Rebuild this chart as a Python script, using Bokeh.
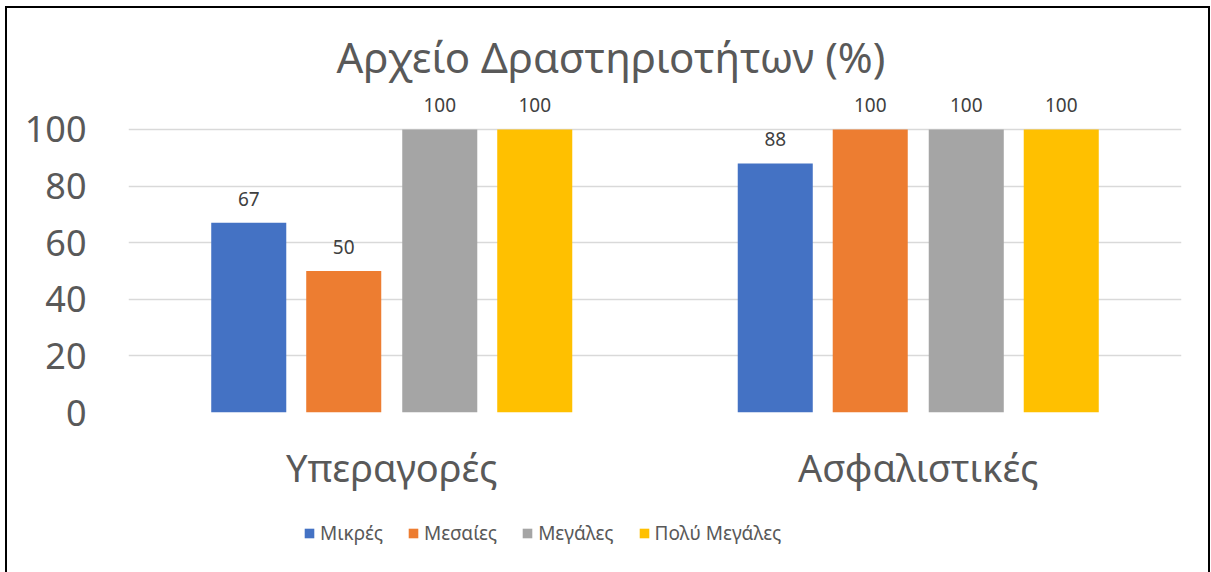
from bokeh.plotting import figure
from bokeh.layouts import column
from bokeh.models import FactorRange, Range1d, ColumnDataSource, FixedTicker, Legend, LegendItem, Title
from bokeh.transform import dodge
from bokeh.core.properties import value
from bokeh.embed import file_html
from bokeh.resources import INLINE

categories = ["Υπεραγορές", "Ασφαλιστικές"]
series = ["Μικρές", "Μεσαίες", "Μεγάλες", "Πολύ Μεγάλες"]
mikres = [67, 88]
mesaies = [50, 100]
megales = [100, 100]
poly_megales = [100, 100]
y_ticks = [0, 20, 40, 60, 80, 100]
colors = ["#4472C4", "#ED7D31", "#A5A5A5", "#FFC000"]

FONT = "Noto Sans"
TXT = "#595959"

source = ColumnDataSource(data=dict(
    cat=categories,
    s0=mikres, s1=mesaies, s2=megales, s3=poly_megales,
    l0=[str(v) for v in mikres], l1=[str(v) for v in mesaies],
    l2=[str(v) for v in megales], l3=[str(v) for v in poly_megales],
))

p = figure(width=1201, height=500, x_range=FactorRange(*categories, range_padding=0),
           y_range=Range1d(0, 112), output_backend="svg", toolbar_location=None,
           min_border_left=121, min_border_right=27, min_border_top=87, min_border_bottom=96)

p.title = Title(text="Αρχείο Δραστηριοτήτων (%)", align="left", offset=208, standoff=22,
                text_font=FONT, text_font_size="42px", text_font_style="normal", text_color=TXT)

offsets = [-0.2716, -0.0912, 0.0912, 0.2716]
bw = 0.1425
for i, off in enumerate(offsets):
    p.vbar(x=dodge("cat", off, range=p.x_range), top="s%d" % i, width=bw, source=source,
           fill_color=colors[i], line_color=None)
    p.text(x=dodge("cat", off, range=p.x_range), y="s%d" % i, text="l%d" % i, source=source,
           text_align="center", text_baseline="middle", y_offset=-24,
           text_font=value(FONT), text_font_size="19px", text_color="#404040")

p.yaxis.ticker = FixedTicker(ticks=y_ticks)
p.yaxis.axis_line_color = None
p.yaxis.major_tick_line_color = None
p.yaxis.minor_tick_line_color = None
p.yaxis.major_label_text_font = FONT
p.yaxis.major_label_text_font_size = "36px"
p.yaxis.major_label_text_color = TXT
p.yaxis.major_label_standoff = 36

p.xaxis.axis_line_color = None
p.xaxis.major_tick_line_color = None
p.xaxis.major_label_text_font = FONT
p.xaxis.major_label_text_font_size = "38px"
p.xaxis.major_label_text_color = TXT
p.xaxis.major_label_standoff = 22

p.xgrid.grid_line_color = None
p.ygrid.ticker = FixedTicker(ticks=y_ticks)
p.ygrid.grid_line_color = "#D9D9D9"
p.ygrid.grid_line_width = 1.5
p.outline_line_color = None

# legend strip below the chart (its bars lie outside its visible y range)
lp = figure(width=1201, height=64, x_range=FactorRange(*categories), y_range=Range1d(1000, 1001),
            output_backend="svg", toolbar_location=None, x_axis_type=None, y_axis_type=None,
            min_border_left=0, min_border_right=0, min_border_top=0, min_border_bottom=0)
lp.grid.grid_line_color = None
lp.outline_line_color = None
items = []
for i, name in enumerate(series):
    r = lp.vbar(x="cat", top="s%d" % i, width=0.1, source=source,
                fill_color=colors[i], line_color=None)
    items.append(LegendItem(label=name, renderers=[r]))

legend = Legend(items=items, orientation="horizontal", location=(175, 26),
                glyph_width=12, glyph_height=12, label_standoff=5, spacing=24,
                label_text_font=FONT, label_text_font_size="19px", label_text_color=TXT,
                border_line_color=None, background_fill_alpha=0, margin=0, padding=0)
lp.add_layout(legend, "center")

layout = column(p, lp, spacing=0,
                styles={"border-left": "2px solid black", "border-top": "2px solid black",
                        "border-right": "2px solid black", "margin-left": "5px", "margin-top": "6px"})

open("out.html", "w").write(file_html(layout, INLINE))
